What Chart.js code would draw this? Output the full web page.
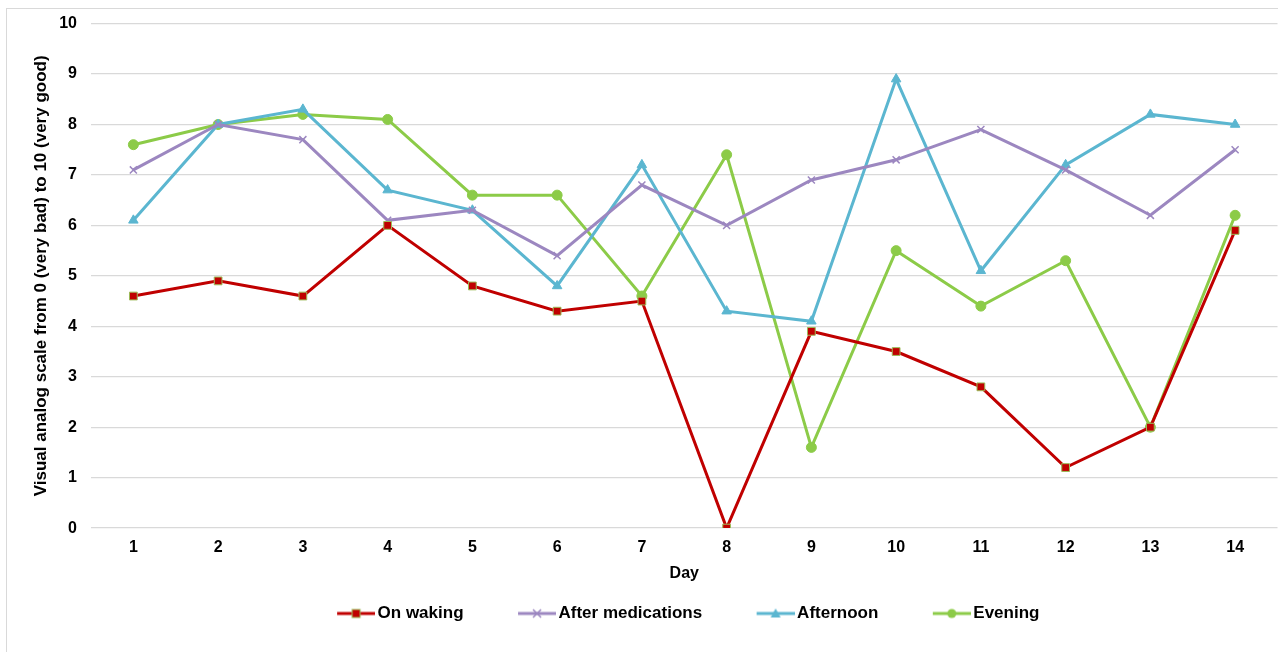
<!DOCTYPE html>
<html>
<head>
<meta charset="utf-8">
<script src="https://cdn.jsdelivr.net/npm/chart.js@4.4.0/dist/chart.umd.min.js"></script>
<style>
html,body{margin:0;padding:0;background:#fff;overflow:hidden;width:1278px;height:652px;}
#frame{position:absolute;left:6px;top:8px;width:1400px;height:800px;border:1px solid #d9d9d9;}
#wrap{position:absolute;left:0;top:0;width:1284px;height:652px;}
</style>
</head>
<body>
<div id="frame"></div>
<div id="wrap"><canvas id="chart"></canvas></div>
<script>
const days = ["1","2","3","4","5","6","7","8","9","10","11","12","13","14"];
const onWaking = [4.6,4.9,4.6,6.0,4.8,4.3,4.5,0,3.9,3.5,2.8,1.2,2.0,5.9];
const afterMeds = [7.1,8.0,7.7,6.1,6.3,5.4,6.8,6.0,6.9,7.3,7.9,7.1,6.2,7.5];
const afternoon = [6.1,8.0,8.3,6.7,6.3,4.8,7.2,4.3,4.1,8.9,5.1,7.2,8.2,8.0];
const evening = [7.6,8.0,8.2,8.1,6.6,6.6,4.6,7.4,1.6,5.5,4.4,5.3,2.0,6.2];
const yTicks = [0,1,2,3,4,5,6,7,8,9,10];

const FONT = "'Liberation Sans', Arial, sans-serif";

/* legend swatch: transparent lead-in, then line with marker in the middle */
function swatch(color, style, fill, border){
const c = document.createElement("canvas");
c.width = 84; c.height = 14;
const g = c.getContext("2d");
const x0 = 46, m = x0 + 19;
g.strokeStyle = color; g.lineWidth = 3;
g.beginPath(); g.moveTo(x0,7); g.lineTo(84,7); g.stroke();
g.fillStyle = fill; g.strokeStyle = border; g.lineWidth = 1;
if(style==="rect"){ g.fillRect(m-4,3,8,8); g.strokeRect(m-4,3,8,8); }
if(style==="crossRot"){ g.strokeStyle = color; g.lineWidth=1.5; g.beginPath(); g.moveTo(m-4,3); g.lineTo(m+4,11); g.moveTo(m+4,3); g.lineTo(m-4,11); g.stroke(); }
if(style==="triangle"){ g.beginPath(); g.moveTo(m,2); g.lineTo(m+5,11); g.lineTo(m-5,11); g.closePath(); g.fill(); }
if(style==="circle"){ g.beginPath(); g.arc(m,7,4.5,0,Math.PI*2); g.fill(); }
return c;
}

const series = [
{label:"On waking", data:onWaking, color:"#C00000", style:"rect", fill:"#C00000", border:"#9BBB59", r:5.5},
{label:"After medications", data:afterMeds, color:"#9C87C0", style:"crossRot", fill:"#9C87C0", border:"#9C87C0", r:5},
{label:"Afternoon", data:afternoon, color:"#5BB6D0", style:"triangle", fill:"#5BB6D0", border:"#5BB6D0", r:5.5},
{label:"Evening", data:evening, color:"#8CCB48", style:"circle", fill:"#8CCB48", border:"#8CCB48", r:5}
];

const datasets = series.map(s=>({
label:s.label,
data:s.data,
borderColor:s.color,
backgroundColor:s.fill,
borderWidth:3,
pointStyle:s.style,
pointRadius:s.r,
pointBackgroundColor:s.fill,
pointBorderColor:s.border,
pointBorderWidth:s.style==="crossRot"?1.5:1,
tension:0,
legendImg:swatch(s.color,s.style,s.fill,s.border)
}));

/* nudge legend so it sits where the original does */
const legendShift = {
id:"legendShift",
afterLayout(chart){
chart.legend.left -= 16;
chart.legend.right -= 16;
}
};

new Chart(document.getElementById("chart"),{
type:"line",
data:{labels:days, datasets:datasets},
plugins:[legendShift],
options:{
responsive:true,
maintainAspectRatio:false,
animation:false,
layout:{padding:{left:31,right:0,top:16,bottom:20}},
plugins:{
tooltip:{enabled:false},
legend:{
position:"bottom",
fullSize:false,
labels:{
usePointStyle:true,
pointStyleWidth:72,
padding:14.5,
color:"#000",
font:{family:FONT,size:17,weight:"bold"},
generateLabels:(chart)=>chart.data.datasets.map((d,i)=>({
text:d.label,
pointStyle:d.legendImg,
fillStyle:d.backgroundColor,
strokeStyle:d.borderColor,
lineWidth:0,
datasetIndex:i,
hidden:false
}))
}
}
},
scales:{
x:{
offset:true,
grid:{display:false,drawTicks:false},
border:{display:false},
ticks:{color:"#000",padding:10,font:{family:FONT,size:16,weight:"bold"}},
title:{display:true,text:"Day",color:"#000",padding:{top:-3,bottom:7},font:{family:FONT,size:16,weight:"bold"}}
},
y:{
min:0,max:10,
afterBuildTicks:(s)=>{ s.ticks = yTicks.map(v=>({value:v})); },
afterFit:(s)=>{ s.width = 60; },
grid:{color:"#d9d9d9",lineWidth:1.3,drawTicks:false},
border:{display:false},
ticks:{color:"#000",padding:14,font:{family:FONT,size:16,weight:"bold"}},
title:{display:true,text:"Visual analog scale from 0 (very bad) to 10 (very good)",color:"#000",padding:0,font:{family:FONT,size:17,weight:"bold"}}
}
}
}
});
</script>
</body>
</html>
